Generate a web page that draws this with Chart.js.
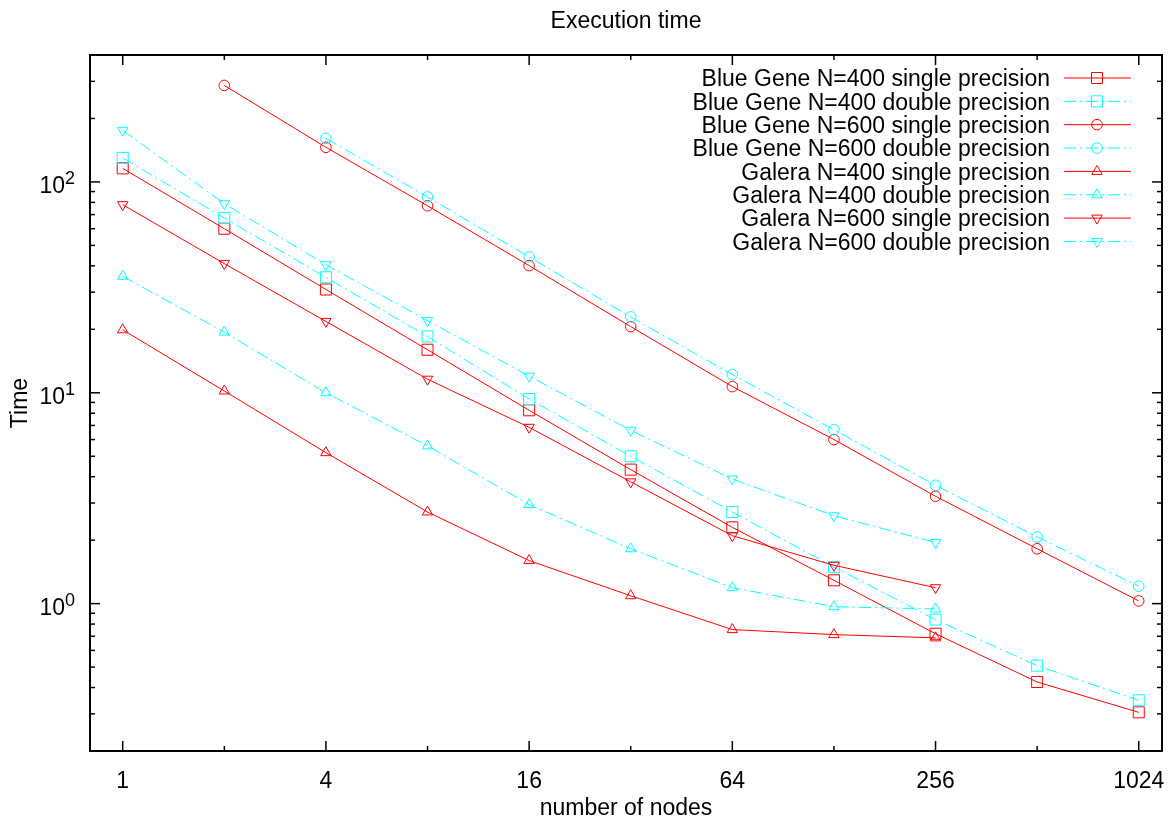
<!DOCTYPE html>
<html>
<head>
<meta charset="utf-8">
<script src="https://cdn.jsdelivr.net/npm/chart.js@4/dist/chart.umd.min.js"></script>
<style>
  html, body { margin: 0; padding: 0; background: #fff; }
  #wrap { width: 1174px; height: 823px; }
</style>
</head>
<body>
<div id="wrap"><canvas id="c" width="1174" height="823"></canvas></div>
<script>
// ---- Data ----
const nodes = [1, 2, 4, 8, 16, 32, 64, 128, 256, 512, 1024];
const bgN400Single = [116, 60, 30.9, 16.0, 8.26, 4.32, 2.30, 1.29, 0.72, 0.425, 0.305];
const bgN400Double = [130, 67.5, 35.3, 18.5, 9.35, 5.0, 2.72, 1.49, 0.84, 0.508, 0.348];
const bgN600Single = [null, 287, 146, 77.1, 40.1, 20.6, 10.7, 6.0, 3.23, 1.82, 1.03];
const bgN600Double = [null, null, 161, 84.9, 44.1, 22.9, 12.2, 6.68, 3.64, 2.07, 1.21];
const galN400Single = [19.9, 10.2, 5.2, 2.72, 1.60, 1.09, 0.753, 0.713, 0.688, null, null];
const galN400Double = [35.7, 19.4, 10.0, 5.6, 2.95, 1.82, 1.19, 0.967, 0.944, null, null];
const galN600Single = [78, 41, 21.8, 11.6, 6.86, 3.78, 2.10, 1.52, 1.19, null, null];
const galN600Double = [175.7, 78.9, 40.5, 22.0, 12.0, 6.64, 3.9, 2.61, 1.95, null, null];

const seriesNames = [
  'Blue Gene N=400 single precision',
  'Blue Gene N=400 double precision',
  'Blue Gene N=600 single precision',
  'Blue Gene N=600 double precision',
  'Galera N=400 single precision',
  'Galera N=400 double precision',
  'Galera N=600 single precision',
  'Galera N=600 double precision'
];
const seriesValues = [bgN400Single, bgN400Double, bgN600Single, bgN600Double,
                      galN400Single, galN400Double, galN600Single, galN600Double];

const xMajorTicks = [1, 4, 16, 64, 256, 1024];
const xMinorTicks = [2, 8, 32, 128, 512];
const xTickLabels = ['1', '4', '16', '64', '256', '1024'];
const yMajorTicks = [1, 10, 100];
const yTickBase = ['10', '10', '10'];
const yTickExp = ['0', '1', '2'];
const yMinorTicks = [0.2,0.3,0.4,0.5,0.6,0.7,0.8,0.9, 2,3,4,5,6,7,8,9, 20,30,40,50,60,70,80,90, 200,300,400];

const titleText = 'Execution time';
const xTitle = 'number of nodes';
const yTitle = 'Time';

// ---- Styles ----
const RED = '#ff0000';
const CYAN = '#00ffff';
const styles = [
  {color: RED,  dash: [], point: 'rect', r: 7.8, rot: 0},
  {color: CYAN, dash: [12,4,2,4], point: 'rect', r: 7.8, rot: 0},
  {color: RED,  dash: [], point: 'circle', r: 5.3, rot: 0},
  {color: CYAN, dash: [12,4,2,4], point: 'circle', r: 5.3, rot: 0},
  {color: RED,  dash: [], point: 'triangle', r: 6, rot: 0},
  {color: CYAN, dash: [12,4,2,4], point: 'triangle', r: 6, rot: 0},
  {color: RED,  dash: [], point: 'triangle', r: 6, rot: 180},
  {color: CYAN, dash: [12,4,2,4], point: 'triangle', r: 6, rot: 180}
];

const FONT = '"Liberation Sans", Arial, Helvetica, sans-serif';

const datasets = seriesValues.map((vals, i) => {
  const pts = [];
  vals.forEach((v, k) => { if (v !== null) pts.push({x: nodes[k], y: v}); });
  const s = styles[i];
  return {
    label: seriesNames[i],
    data: pts,
    showLine: true,
    borderColor: s.color,
    borderWidth: 1,
    borderDash: s.dash,
    backgroundColor: 'rgba(0,0,0,0)',
    pointStyle: s.point,
    pointRadius: s.r,
    pointRotation: s.rot,
    pointBorderColor: s.color,
    pointBackgroundColor: 'rgba(0,0,0,0)',
    pointBorderWidth: 1,
    tension: 0,
    order: 8 - i
  };
});

function drawMarker(ctx, style, x, y, r, rot) {
  ctx.beginPath();
  if (style === 'rect') {
    const h = r * Math.SQRT1_2;
    ctx.rect(x - h, y - h, 2 * h, 2 * h);
  } else if (style === 'circle') {
    ctx.arc(x, y, r, 0, Math.PI * 2);
  } else {
    let a = rot * Math.PI / 180;
    for (let k = 0; k < 3; k++) {
      const px = x + Math.sin(a) * r, py = y - Math.cos(a) * r;
      if (k === 0) ctx.moveTo(px, py); else ctx.lineTo(px, py);
      a += 2 * Math.PI / 3;
    }
    ctx.closePath();
  }
  ctx.stroke();
}

const gnuplotFrame = {
  id: 'gnuplotFrame',
  afterDraw(chart) {
    const {ctx, chartArea: a, scales} = chart;
    const xs = scales.x, ys = scales.y;
    ctx.save();
    ctx.strokeStyle = '#000';
    ctx.lineWidth = 1.5;
    ctx.setLineDash([]);
    const tick = (x1, y1, x2, y2) => { ctx.beginPath(); ctx.moveTo(x1, y1); ctx.lineTo(x2, y2); ctx.stroke(); };
    xMajorTicks.forEach(v => { const p = xs.getPixelForValue(v); tick(p, a.bottom, p, a.bottom - 10); tick(p, a.top, p, a.top + 10); });
    xMinorTicks.forEach(v => { const p = xs.getPixelForValue(v); tick(p, a.bottom, p, a.bottom - 5); tick(p, a.top, p, a.top + 5); });
    yMajorTicks.forEach(v => { const p = ys.getPixelForValue(v); tick(a.left, p, a.left + 10, p); tick(a.right, p, a.right - 10, p); });
    yMinorTicks.forEach(v => { const p = ys.getPixelForValue(v); tick(a.left, p, a.left + 5, p); tick(a.right, p, a.right - 5, p); });
    ctx.lineWidth = 2;
    ctx.strokeRect(a.left, a.top, a.right - a.left, a.bottom - a.top);

    ctx.fillStyle = '#000';
    // title
    ctx.font = '23px ' + FONT;
    ctx.textAlign = 'center';
    ctx.textBaseline = 'alphabetic';
    ctx.fillText(titleText, (a.left + a.right) / 2, 28);
    // x tick labels
    xMajorTicks.forEach((v, i) => ctx.fillText(xTickLabels[i], xs.getPixelForValue(v), 788));
    // x title
    ctx.fillText(xTitle, (a.left + a.right) / 2, 815);
    // y tick labels with superscript
    yMajorTicks.forEach((v, i) => {
      const p = ys.getPixelForValue(v);
      ctx.font = '18px ' + FONT;
      const ew = ctx.measureText(yTickExp[i]).width;
      ctx.textAlign = 'right';
      ctx.fillText(yTickExp[i], a.left - 15, p + 2);
      ctx.font = '23px ' + FONT;
      ctx.fillText(yTickBase[i], a.left - 15 - ew, p + 11);
    });
    // y title
    ctx.save();
    ctx.translate(27, (a.top + a.bottom) / 2);
    ctx.rotate(-Math.PI / 2);
    ctx.textAlign = 'center';
    ctx.font = '23px ' + FONT;
    ctx.fillText(yTitle, 0, 0);
    ctx.restore();

    // legend (gnuplot style: right-aligned text, sample on the right)
    const textRight = 1050, lineL = 1064, lineR = 1131, markX = 1097;
    seriesNames.forEach((name, i) => {
      const cy = 78 + i * 23.35;
      ctx.font = '23px ' + FONT;
      ctx.textAlign = 'right';
      ctx.fillStyle = '#000';
      ctx.fillText(name, textRight, cy + 8.3);
      const s = styles[i];
      ctx.strokeStyle = s.color;
      ctx.lineWidth = 1;
      ctx.setLineDash(s.dash);
      ctx.beginPath(); ctx.moveTo(lineL, cy); ctx.lineTo(lineR, cy); ctx.stroke();
      ctx.setLineDash([]);
      drawMarker(ctx, s.point, markX, cy, s.r, s.rot);
    });
    ctx.restore();
  }
};

new Chart(document.getElementById('c'), {
  type: 'scatter',
  data: { datasets },
  options: {
    responsive: false,
    animation: false,
    events: [],
    layout: { padding: { left: 90, right: 12, top: 55, bottom: 72 } },
    plugins: { legend: { display: false }, title: { display: false }, tooltip: { enabled: false } },
    scales: {
      x: { type: 'logarithmic', min: 0.8, max: 1200, display: false },
      y: { type: 'logarithmic', min: 0.2, max: 400, display: false }
    }
  },
  plugins: [gnuplotFrame]
});
</script>
</body>
</html>
